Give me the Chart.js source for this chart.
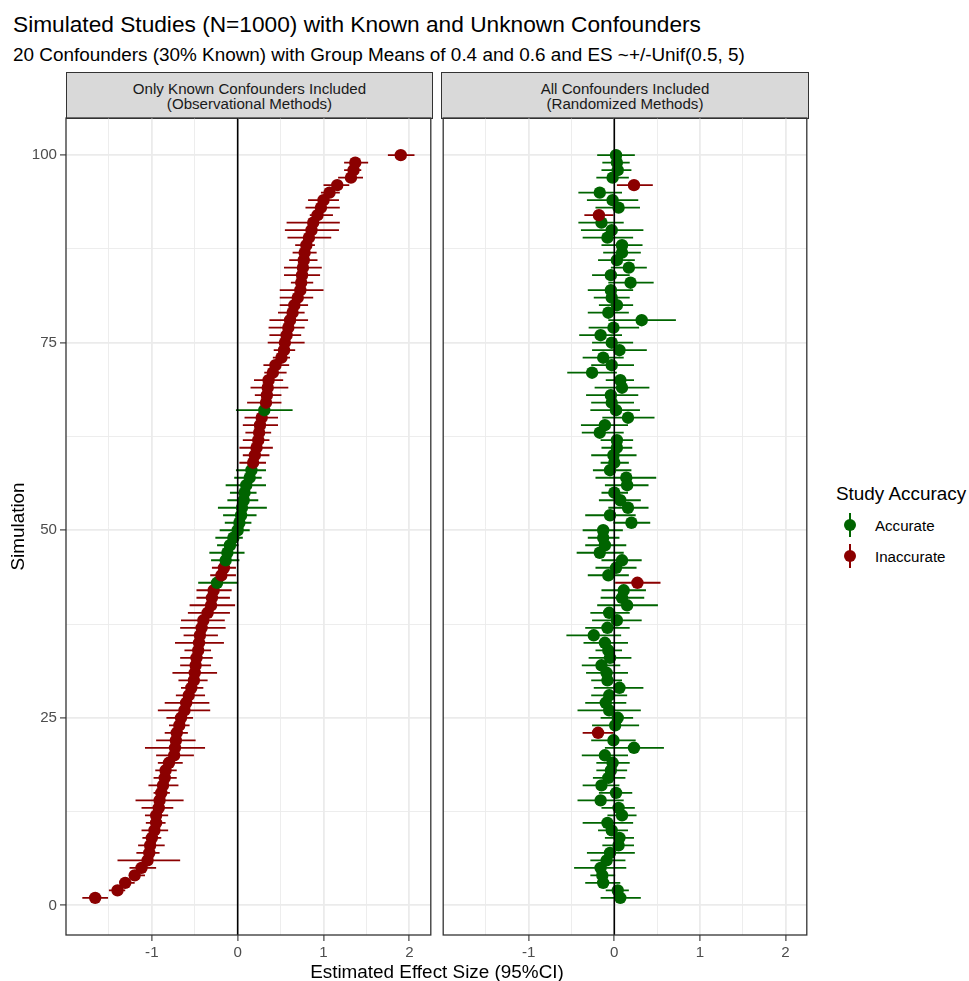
<!DOCTYPE html>
<html>
<head>
<meta charset="utf-8">
<script src="https://cdn.jsdelivr.net/npm/chart.js@4.4.0/dist/chart.umd.min.js"></script>
<style>
  html, body { margin: 0; padding: 0; background: #ffffff; }
  body { width: 969px; height: 981px; position: relative; overflow: hidden;
         font-family: "Liberation Sans", Arial, sans-serif; }
  .abs { position: absolute; white-space: nowrap; }
  #title { left: 13px; top: 11px; font-size: 22.7px; line-height: 26px; color: #000; }
  #subtitle { left: 13px; top: 44px; font-size: 18.9px; line-height: 22px; color: #000; }
  .strip { position: absolute; top: 72px; height: 47px; box-sizing: border-box;
           background: #D9D9D9; border: 1.3px solid #333333; color: #1A1A1A;
           font-size: 15.1px; line-height: 15px; text-align: center;
           display: flex; flex-direction: column; justify-content: center; }
  #xtitle { left: 66px; width: 742px; top: 961px; font-size: 18.9px; line-height: 22px;
            text-align: center; color: #000; }
  #legtitle { left: 836px; top: 483px; font-size: 18.9px; line-height: 22px; color: #000; }
  .legkey { position: absolute; width: 20px; height: 26px; }
  .legkey .bar { position: absolute; left: 9px; top: 1px; width: 2px; height: 24px; }
  .legkey .dot { position: absolute; left: 4px; top: 7px; width: 12px; height: 12px; border-radius: 50%; }
  .leglab { position: absolute; left: 875px; font-size: 15.1px; line-height: 18px; color: #000; }
  canvas { position: absolute; }
</style>
</head>
<body>
<div id="title" class="abs">Simulated Studies (N=1000) with Known and Unknown Confounders</div>
<div id="subtitle" class="abs">20 Confounders (30% Known) with Group Means of 0.4 and 0.6 and ES ~+/-Unif(0.5, 5)</div>
<div id="strip1" class="strip" style="left:66px;width:367px;"></div>
<div id="strip2" class="strip" style="left:441px;width:368px;"></div>
<canvas id="c1" width="437" height="853" style="left:0px;top:110px;"></canvas>
<canvas id="c2" width="376" height="853" style="left:437px;top:110px;"></canvas>
<div id="xtitle" class="abs"></div>
<div id="legtitle" class="abs"></div>
<div id="legend"></div>
<script>
// ---------------- data ----------------
const simulation = [
  1,2,3,4,5,6,7,8,9,10,11,12,13,14,15,16,17,18,19,20,
  21,22,23,24,25,26,27,28,29,30,31,32,33,34,35,36,37,38,39,40,
  41,42,43,44,45,46,47,48,49,50,51,52,53,54,55,56,57,58,59,60,
  61,62,63,64,65,66,67,68,69,70,71,72,73,74,75,76,77,78,79,80,
  81,82,83,84,85,86,87,88,89,90,91,92,93,94,95,96,97,98,99,100
];

// Panel 1: only known confounders (observational methods)
const obsEstimate = [
  -1.66,-1.40,-1.31,-1.20,-1.12,-1.05,-1.03,-1.02,-1.00,-0.97,
  -0.95,-0.95,-0.92,-0.91,-0.89,-0.87,-0.85,-0.84,-0.80,-0.74,
  -0.73,-0.72,-0.71,-0.68,-0.66,-0.62,-0.60,-0.57,-0.54,-0.51,
  -0.50,-0.49,-0.48,-0.46,-0.45,-0.44,-0.42,-0.40,-0.35,-0.31,
  -0.30,-0.28,-0.24,-0.19,-0.16,-0.14,-0.12,-0.09,-0.05,0.00,
  0.02,0.04,0.05,0.07,0.08,0.10,0.14,0.16,0.18,0.20,
  0.22,0.24,0.25,0.26,0.28,0.31,0.33,0.34,0.35,0.36,
  0.41,0.44,0.51,0.54,0.55,0.57,0.59,0.61,0.64,0.66,
  0.70,0.73,0.74,0.75,0.76,0.77,0.78,0.80,0.83,0.86,
  0.88,0.93,0.97,1.00,1.07,1.16,1.32,1.35,1.37,1.90
];
const obsLower = [
  -1.81,-1.50,-1.37,-1.26,-1.26,-1.40,-1.18,-1.16,-1.11,-1.12,
  -1.07,-1.08,-1.12,-1.19,-0.98,-1.04,-0.98,-0.96,-0.93,-0.95,
  -1.08,-0.95,-0.85,-0.80,-0.83,-0.93,-0.85,-0.72,-0.66,-0.69,
  -0.76,-0.67,-0.67,-0.62,-0.73,-0.63,-0.67,-0.66,-0.58,-0.56,
  -0.48,-0.48,-0.46,-0.32,-0.30,-0.31,-0.33,-0.24,-0.26,-0.21,
  -0.15,-0.17,-0.23,-0.12,-0.09,-0.14,-0.04,-0.02,0.02,0.06,
  0.02,0.06,0.09,0.06,0.08,-0.02,0.11,0.20,0.15,0.19,
  0.31,0.30,0.41,0.42,0.35,0.37,0.36,0.37,0.47,0.49,
  0.49,0.49,0.62,0.54,0.54,0.60,0.64,0.67,0.58,0.55,
  0.57,0.84,0.79,0.82,0.97,1.00,1.17,1.24,1.24,1.75
];
const obsUpper = [
  -1.51,-1.31,-1.20,-1.08,-0.95,-0.67,-0.91,-0.85,-0.89,-0.81,
  -0.84,-0.81,-0.75,-0.63,-0.79,-0.69,-0.71,-0.71,-0.64,-0.51,
  -0.38,-0.49,-0.58,-0.56,-0.52,-0.32,-0.33,-0.38,-0.40,-0.35,
  -0.24,-0.31,-0.29,-0.31,-0.16,-0.23,-0.14,-0.15,-0.09,-0.03,
  -0.09,-0.07,0.005,-0.02,-0.02,0.02,0.08,0.01,0.06,0.14,
  0.16,0.22,0.34,0.24,0.22,0.33,0.28,0.33,0.33,0.37,
  0.41,0.37,0.39,0.47,0.47,0.64,0.51,0.51,0.59,0.53,
  0.57,0.60,0.61,0.67,0.78,0.74,0.78,0.82,0.78,0.82,
  0.88,1.00,0.88,0.96,0.98,0.93,0.92,0.90,1.09,1.18,
  1.19,1.11,1.19,1.18,1.19,1.30,1.46,1.44,1.52,2.06
];
// 1 = Accurate, 0 = Inaccurate
const obsAccurate = [
  0,0,0,0,0,0,0,0,0,0, 0,0,0,0,0,0,0,0,0,0,
  0,0,0,0,0,0,0,0,0,0, 0,0,0,0,0,0,0,0,0,0,
  0,0,1,0,0,1,1,1,1,1, 1,1,1,1,1,1,1,1,0,0,
  0,0,0,0,0,1,0,0,0,0, 0,0,0,0,0,0,0,0,0,0,
  0,0,0,0,0,0,0,0,0,0, 0,0,0,0,0,0,0,0,0,0
];

// Panel 2: all confounders (randomized methods)
const rndEstimate = [
  0.07,0.04,-0.13,-0.14,-0.16,-0.09,-0.05,0.05,0.06,-0.03,
  -0.08,0.09,0.05,-0.16,0.02,-0.15,-0.07,-0.04,-0.02,-0.11,
  0.23,-0.01,-0.19,0.01,0.04,-0.06,-0.10,-0.06,0.06,-0.08,
  -0.09,-0.15,-0.05,-0.07,-0.11,-0.24,-0.08,0.03,-0.06,0.15,
  0.09,0.11,0.27,-0.07,0.02,0.09,-0.17,-0.11,-0.13,-0.13,
  0.20,-0.05,0.16,0.07,0.00,0.15,0.14,-0.05,0.00,-0.01,
  0.03,0.03,-0.17,-0.11,0.16,0.02,-0.03,-0.04,0.09,0.07,
  -0.26,-0.03,-0.13,0.06,-0.03,-0.16,-0.01,0.32,-0.07,0.03,
  -0.03,-0.04,0.19,-0.04,0.17,0.03,0.09,0.09,-0.08,-0.03,
  -0.15,-0.18,0.05,-0.02,-0.17,0.23,-0.02,0.04,0.03,0.02
];
const rndLower = [
  -0.16,-0.10,-0.34,-0.28,-0.47,-0.28,-0.32,-0.14,-0.11,-0.19,
  -0.37,-0.08,-0.15,-0.43,-0.18,-0.37,-0.25,-0.21,-0.21,-0.38,
  -0.11,-0.27,-0.37,-0.26,-0.16,-0.43,-0.34,-0.27,-0.24,-0.27,
  -0.33,-0.38,-0.30,-0.22,-0.36,-0.56,-0.34,-0.26,-0.28,-0.20,
  -0.16,-0.15,0.01,-0.31,-0.22,-0.15,-0.44,-0.34,-0.31,-0.37,
  -0.01,-0.34,-0.07,-0.18,-0.15,-0.11,-0.22,-0.25,-0.16,-0.27,
  -0.15,-0.16,-0.38,-0.39,-0.14,-0.28,-0.27,-0.33,-0.23,-0.10,
  -0.55,-0.27,-0.37,-0.26,-0.26,-0.41,-0.30,-0.07,-0.31,-0.18,
  -0.24,-0.31,-0.07,-0.26,-0.04,-0.19,-0.13,-0.15,-0.37,-0.39,
  -0.42,-0.35,-0.22,-0.32,-0.42,0.03,-0.21,-0.15,-0.14,-0.20
];
const rndUpper = [
  0.31,0.17,0.07,0.01,0.14,0.13,0.24,0.23,0.23,0.16,
  0.22,0.26,0.24,0.11,0.21,0.06,0.13,0.15,0.18,0.16,
  0.58,0.25,-0.01,0.29,0.22,0.31,0.14,0.15,0.34,0.09,
  0.16,0.07,0.20,0.09,0.16,0.08,0.18,0.32,0.18,0.51,
  0.35,0.37,0.54,0.17,0.26,0.32,0.11,0.14,0.06,0.10,
  0.42,0.25,0.40,0.31,0.16,0.40,0.49,0.20,0.17,0.26,
  0.21,0.22,0.11,0.16,0.47,0.30,0.23,0.28,0.41,0.23,
  0.03,0.23,0.11,0.38,0.22,0.09,0.29,0.72,0.17,0.22,
  0.18,0.22,0.46,0.18,0.38,0.24,0.31,0.33,0.22,0.34,
  0.11,-0.01,0.30,0.28,0.09,0.45,0.17,0.20,0.18,0.24
];
const rndAccurate = [
  1,1,1,1,1,1,1,1,1,1, 1,1,1,1,1,1,1,1,1,1,
  1,1,0,1,1,1,1,1,1,1, 1,1,1,1,1,1,1,1,1,1,
  1,1,0,1,1,1,1,1,1,1, 1,1,1,1,1,1,1,1,1,1,
  1,1,1,1,1,1,1,1,1,1, 1,1,1,1,1,1,1,1,1,1,
  1,1,1,1,1,1,1,1,1,1, 1,0,1,1,1,0,1,1,1,1
];

// ---------------- axes / text ----------------
const xMajorTicks = [-1, 0, 1, 2];
const xAllTicks   = [-1.5, -1, -0.5, 0, 0.5, 1, 1.5, 2];
const yMajorTicks = [0, 25, 50, 75, 100];
const yAllTicks   = [0, 12.5, 25, 37.5, 50, 62.5, 75, 87.5, 100];
const xLimits = [-2.0, 2.25];
const yLimits = [-3.95, 104.95];
const refLine = 0;
const panelTitles = [
  ['Only Known Confounders Included', '(Observational Methods)'],
  ['All Confounders Included', '(Randomized Methods)']
];
const xAxisTitle = 'Estimated Effect Size (95%CI)';
const yAxisTitle = 'Simulation';
const legendTitle = 'Study Accuracy';
const legendLabels = ['Accurate', 'Inaccurate'];
</script>
<script>
const COL_ACC = '#006400';
const COL_INACC = '#8B0000';
const FONT = '"Liberation Sans", Arial, sans-serif';
Chart.defaults.font.family = FONT;

// text elements
panelTitles.forEach((lines, k) => {
  const el = document.getElementById('strip' + (k + 1));
  lines.forEach(t => { const d = document.createElement('div'); d.textContent = t; el.appendChild(d); });
});
document.getElementById('xtitle').textContent = xAxisTitle;
document.getElementById('legtitle').textContent = legendTitle;
const legendEl = document.getElementById('legend');
[COL_ACC, COL_INACC].forEach((col, k) => {
  const cy = 525 + k * 30.5;
  const key = document.createElement('div');
  key.className = 'legkey';
  key.style.left = '840px'; key.style.top = (cy - 13) + 'px';
  key.innerHTML = '<div class="bar" style="background:' + col + '"></div><div class="dot" style="background:' + col + '"></div>';
  legendEl.appendChild(key);
  const lab = document.createElement('div');
  lab.className = 'leglab';
  lab.style.top = (cy - 8) + 'px';
  lab.textContent = legendLabels[k];
  legendEl.appendChild(lab);
});

function errorSegments(lo, hi, acc, flag) {
  const out = [];
  simulation.forEach((s, i) => {
    if (acc[i] === flag) {
      out.push({ x: lo[i], y: s }, { x: hi[i], y: s }, { x: hi[i], y: null });
    }
  });
  return out;
}

const panelBorder = {
  id: 'panelBorder',
  afterDraw(chart) {
    const { ctx, chartArea: a } = chart;
    ctx.save();
    ctx.strokeStyle = '#333333';
    ctx.lineWidth = 1.3;
    ctx.strokeRect(a.left, a.top, a.right - a.left, a.bottom - a.top);
    ctx.restore();
  }
};

function makePanel(canvasId, est, lo, hi, acc, showY) {
  const isMajorX = c => c.tick && xMajorTicks.includes(c.tick.value);
  const isMajorY = c => c.tick && yMajorTicks.includes(c.tick.value);
  return new Chart(document.getElementById(canvasId), {
    type: 'scatter',
    data: {
      datasets: [
        { // reference line at 0
          data: [{ x: refLine, y: yLimits[0] }, { x: refLine, y: yLimits[1] }],
          showLine: true, borderColor: '#000000', borderWidth: 1.6,
          pointRadius: 0, order: 0
        },
        { // points
          data: simulation.map((s, i) => ({ x: est[i], y: s })),
          pointRadius: 6.2, pointBorderWidth: 0,
          pointBackgroundColor: acc.map(a => a ? COL_ACC : COL_INACC),
          pointBorderColor: acc.map(a => a ? COL_ACC : COL_INACC),
          order: 1
        },
        { // accurate intervals
          data: errorSegments(lo, hi, acc, 1),
          showLine: true, spanGaps: false, borderColor: COL_ACC, borderWidth: 1.8,
          pointRadius: 0, order: 2
        },
        { // inaccurate intervals
          data: errorSegments(lo, hi, acc, 0),
          showLine: true, spanGaps: false, borderColor: COL_INACC, borderWidth: 1.8,
          pointRadius: 0, order: 2
        }
      ]
    },
    options: {
      responsive: false,
      animation: false,
      events: [],
      layout: { padding: { top: 8, right: 5, left: showY ? 0 : 5, bottom: 0 } },
      plugins: { legend: { display: false }, tooltip: { enabled: false } },
      scales: {
        x: {
          type: 'linear', min: xLimits[0], max: xLimits[1],
          afterBuildTicks: s => { s.ticks = xAllTicks.map(v => ({ value: v })); },
          afterFit: s => { s.height = 28; s.paddingLeft = 0; s.paddingRight = 0; },
          border: { display: false },
          grid: {
            color: '#EBEBEB',
            lineWidth: c => isMajorX(c) ? 1.8 : 0.9,
            tickColor: c => isMajorX(c) ? '#333333' : 'rgba(0,0,0,0)',
            tickWidth: 1.1, tickLength: 6, drawTicks: true
          },
          ticks: {
            autoSkip: false, maxRotation: 0, padding: 3,
            color: '#4D4D4D', font: { size: 15.1 },
            callback: v => xMajorTicks.includes(v) ? String(v) : ''
          }
        },
        y: {
          type: 'linear', min: yLimits[0], max: yLimits[1],
          afterBuildTicks: s => { s.ticks = yAllTicks.map(v => ({ value: v })); },
          afterFit: s => { s.width = showY ? 66 : 0; s.paddingTop = 0; s.paddingBottom = 0; },
          border: { display: false },
          title: showY ? { display: true, text: yAxisTitle, color: '#000', font: { size: 18.9 }, padding: { top: 7, bottom: 0 } } : { display: false },
          grid: {
            color: '#EBEBEB',
            lineWidth: c => isMajorY(c) ? 1.8 : 0.9,
            tickColor: c => isMajorY(c) ? '#333333' : 'rgba(0,0,0,0)',
            tickWidth: 1.1, tickLength: 6, drawTicks: showY
          },
          ticks: {
            display: showY, autoSkip: false, padding: 3,
            color: '#4D4D4D', font: { size: 15.1 },
            callback: v => yMajorTicks.includes(v) ? String(v) : ''
          }
        }
      }
    },
    plugins: [panelBorder]
  });
}

makePanel('c1', obsEstimate, obsLower, obsUpper, obsAccurate, true);
makePanel('c2', rndEstimate, rndLower, rndUpper, rndAccurate, false);
</script>
</body>
</html>
